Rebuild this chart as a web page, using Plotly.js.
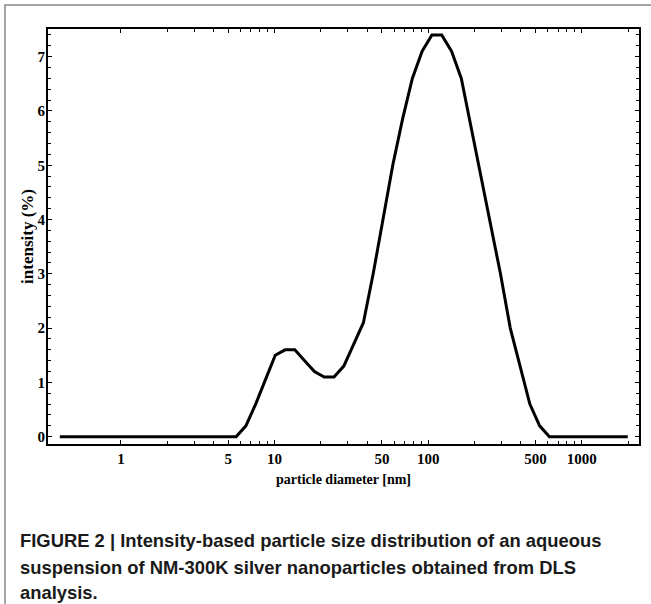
<!DOCTYPE html>
<html>
<head>
<meta charset="utf-8">
<script src="https://cdn.plot.ly/plotly-3.0.1.min.js"></script>
<style>
  html, body { margin: 0; padding: 0; background: #fff; }
  #chart { width: 651px; height: 604px; }
</style>
</head>
<body>
<div id="chart"></div>
<script>
// Particle diameter bins (nm) and intensity (%)
const diameters = [0.4, 0.4632, 0.5365, 0.6213, 0.7195, 0.8332, 0.9649, 1.117, 1.294, 1.499,
  1.736, 2.01, 2.328, 2.696, 3.122, 3.615, 4.187, 4.849, 5.615, 6.503,
  7.531, 8.721, 10.1, 11.7, 13.54, 15.69, 18.17, 21.04, 24.36, 28.21,
  32.67, 37.84, 43.82, 50.75, 58.77, 68.06, 78.82, 91.28, 105.7, 122.4,
  141.8, 164.2, 190.1, 220.2, 255, 295.3, 342, 396.1, 458.7, 531.2,
  615.1, 712.4, 825, 955.4, 1106, 1281, 1484, 1718, 1990];
const intensity = [0, 0, 0, 0, 0, 0, 0, 0, 0, 0,
  0, 0, 0, 0, 0, 0, 0, 0, 0, 0.2,
  0.6, 1.05, 1.5, 1.6, 1.6, 1.4, 1.2, 1.1, 1.1, 1.3,
  1.7, 2.1, 3.0, 4.0, 5.0, 5.85, 6.6, 7.1, 7.4, 7.4,
  7.1, 6.6, 5.7, 4.8, 3.9, 3.0, 2.0, 1.3, 0.6, 0.2,
  0, 0, 0, 0, 0, 0, 0, 0, 0];

const xTickVals = [1, 5, 10, 50, 100, 500, 1000];
const xTickText = ['1', '5', '10', '50', '100', '500', '1000'];
const xMinorVals = [2, 3, 4, 6, 7, 8, 9, 20, 30, 40, 60, 70, 80, 90, 200, 300, 400, 600, 700, 800, 900, 2000];
const yTickVals = [0, 1, 2, 3, 4, 5, 6, 7];

const captionLines = [
  'FIGURE 2 | Intensity-based particle size distribution of an aqueous',
  'suspension of NM-300K silver nanoparticles obtained from DLS',
  'analysis.'
];

const serifBold = {family: 'Liberation Serif, Times New Roman, serif', size: 15, color: '#000', weight: 'bold'};

const trace = {
  x: diameters,
  y: intensity,
  type: 'scatter',
  mode: 'lines',
  line: {color: '#000', width: 3},
  hoverinfo: 'skip'
};

const captionY = [-0.2337, -0.2964, -0.359];
const annotations = captionLines.map((t, i) => ({
  text: t,
  xref: 'paper', yref: 'paper',
  x: -0.0508, y: captionY[i],
  xanchor: 'left', yanchor: 'middle',
  showarrow: false,
  font: {family: 'Liberation Sans, Arial, sans-serif', size: 18.4, color: '#1a1a1a', weight: 'bold'}
}));

const layout = {
  width: 651,
  height: 604,
  margin: {l: 48, r: 12, t: 29, b: 160, pad: 0},
  paper_bgcolor: '#fff',
  plot_bgcolor: '#fff',
  showlegend: false,
  xaxis: {
    type: 'log',
    range: [-0.475, 3.372],
    showgrid: false,
    zeroline: false,
    showline: true,
    linecolor: '#000',
    linewidth: 2,
    mirror: 'ticks',
    ticks: 'inside',
    ticklen: 4,
    tickwidth: 1,
    tickcolor: '#000',
    tickmode: 'array',
    tickvals: xTickVals,
    ticktext: xTickText,
    tickfont: serifBold,
    minor: {tickmode: 'array', tickvals: xMinorVals, ticks: 'inside', ticklen: 3, tickwidth: 1, tickcolor: '#000', showgrid: false},
    title: {text: 'particle diameter [nm]', font: {family: 'Liberation Serif, Times New Roman, serif', size: 14, color: '#000', weight: 'bold'}, standoff: 8},
    automargin: false
  },
  yaxis: {
    range: [-0.135, 7.51],
    showgrid: false,
    zeroline: false,
    showline: true,
    linecolor: '#000',
    linewidth: 2,
    mirror: 'ticks',
    ticks: 'inside',
    ticklen: 4,
    tickwidth: 1,
    tickcolor: '#000',
    tickmode: 'array',
    tickvals: yTickVals,
    tickfont: serifBold,
    ticklabelstandoff: -2,
    minor: {dtick: 0.2, ticks: 'inside', ticklen: 3, tickwidth: 1, tickcolor: '#000', showgrid: false},
    title: {text: 'intensity (%)', font: {family: 'Liberation Serif, Times New Roman, serif', size: 17, color: '#000', weight: 'bold'}, standoff: 0},
    automargin: false
  },
  shapes: [{
    type: 'rect', xref: 'paper', yref: 'paper',
    x0: -0.0728, x1: 1.2, y0: -0.45, y1: 1.0578,
    line: {color: '#888', width: 1.5},
    fillcolor: 'rgba(0,0,0,0)',
    layer: 'below'
  }],
  annotations: annotations
};

Plotly.newPlot('chart', [trace], layout, {staticPlot: true, displayModeBar: false});
</script>
</body>
</html>
